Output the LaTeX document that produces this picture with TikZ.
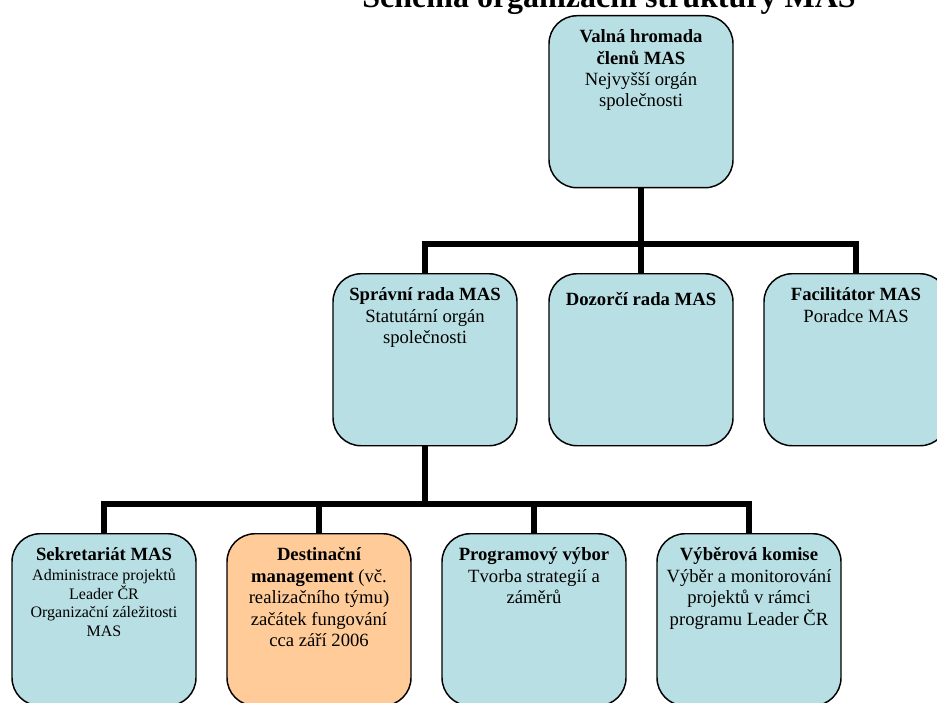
\documentclass[tikz,border=0pt]{standalone}
\usepackage{fontspec}
\setmainfont{Liberation Serif}
\definecolor{boxblue}{RGB}{184,223,227}
\definecolor{boxorange}{RGB}{255,204,153}
\newcommand\hd[1]{{\fontsize{14pt}{16.1pt}\selectfont\bfseries #1}}
\begin{document}
\begin{tikzpicture}[x=0.75pt,y=-0.75pt,
  orgbox/.style={draw=black,line width=1.1pt,rounded corners=21pt,fill=boxblue,
    minimum width=138pt,minimum height=129pt,inner sep=0pt,anchor=north},
  orangebox/.style={orgbox,fill=boxorange},
  boxtext/.style={anchor=north,inner sep=0pt,align=center,yshift=-10.75pt,
    font=\fontsize{14pt}{16.1pt}\selectfont,
    execute at begin node={\rule{0pt}{13.25pt}}},
  smalltext/.style={boxtext,font=\fontsize{12pt}{13.8pt}\selectfont},
  conn/.style={draw=black,line width=4pt}]
\useasboundingbox (0,0) rectangle (937,702);
\clip (0,0) rectangle (937,702);
% title (cut off at top as in the reference)
\node[anchor=base,inner sep=0pt,font=\fontsize{24pt}{28pt}\selectfont\bfseries] (title) at (609,8) {Schéma organizační struktury MAS};
% boxes
\node[orgbox] (top) at (641,15) {};
\node[orgbox] (spr) at (425,273) {};
\node[orgbox] (doz) at (641,273) {};
\node[orgbox] (fac) at (856,273) {};
\node[orgbox] (sek) at (104,533) {};
\node[orangebox] (des) at (319,533) {};
\node[orgbox] (prog) at (534,533) {};
\node[orgbox] (vyb) at (749,533) {};
% connectors
\coordinate (j1) at (641,244);
\coordinate (j2) at (425,504);
\draw[conn] (top.south) -- (doz.north);
\draw[conn] (spr.north) |- (j1) -| (fac.north);
\draw[conn] (spr.south) -- (j2);
\draw[conn] (sek.north) |- (j2) -| (vyb.north);
\draw[conn] (des.north) -- (des.north |- j2);
\draw[conn] (prog.north) -- (prog.north |- j2);
% texts
\node[boxtext] (ttop) at (top.north) {\hd{Valná hromada}\\\hd{členů MAS}\\Nejvyšší orgán\\společnosti};
\node[boxtext] (tspr) at (spr.north) {\hd{Správní rada MAS}\\Statutární orgán\\společnosti};
\node[boxtext] (tdoz) at (doz.north) {\hd{Dozorčí rada MAS}};
\node[boxtext] (tfac) at (fac.north) {\hd{Facilitátor MAS}\\Poradce MAS};
\node[smalltext] (tsek) at (sek.north) {\hd{Sekretariát MAS}\\[1.5pt]Administrace projektů\\Leader ČR\\Organizační záležitosti\\MAS};
\node[boxtext] (tdes) at (des.north) {\hd{Destinační}\\\hd{management} (vč.\\realizačního týmu)\\začátek fungování\\cca září 2006};
\node[boxtext] (tprog) at (prog.north) {\hd{Programový výbor}\\Tvorba strategií a\\záměrů};
\node[boxtext] (tvyb) at (vyb.north) {\hd{Výběrová komise}\\Výběr a monitorování\\projektů v rámci\\programu Leader ČR};
\end{tikzpicture}
\end{document}
